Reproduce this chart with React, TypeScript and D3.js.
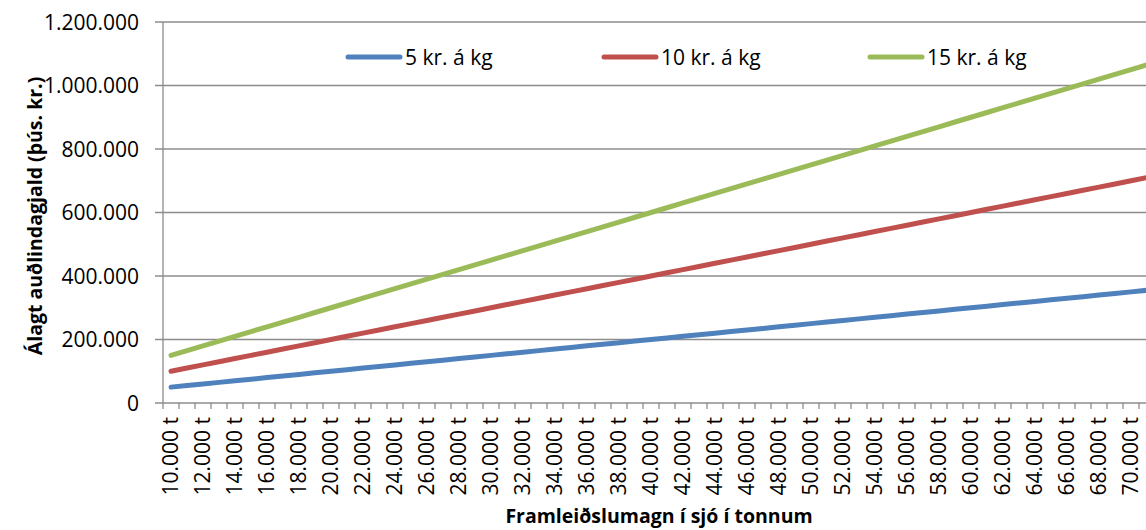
import { useEffect, useRef } from "react";
import * as d3 from "d3";

// tonnes caught (categories on the x axis)
const tonnes = [
  10000, 11000, 12000, 13000, 14000, 15000, 16000, 17000, 18000, 19000,
  20000, 21000, 22000, 23000, 24000, 25000, 26000, 27000, 28000, 29000,
  30000, 31000, 32000, 33000, 34000, 35000, 36000, 37000, 38000, 39000,
  40000, 41000, 42000, 43000, 44000, 45000, 46000, 47000, 48000, 49000,
  50000, 51000, 52000, 53000, 54000, 55000, 56000, 57000, 58000, 59000,
  60000, 61000, 62000, 63000, 64000, 65000, 66000, 67000, 68000, 69000,
  70000, 71000,
];

// þús. kr.
const fee5 = [
  50000, 55000, 60000, 65000, 70000, 75000, 80000, 85000, 90000, 95000,
  100000, 105000, 110000, 115000, 120000, 125000, 130000, 135000, 140000, 145000,
  150000, 155000, 160000, 165000, 170000, 175000, 180000, 185000, 190000, 195000,
  200000, 205000, 210000, 215000, 220000, 225000, 230000, 235000, 240000, 245000,
  250000, 255000, 260000, 265000, 270000, 275000, 280000, 285000, 290000, 295000,
  300000, 305000, 310000, 315000, 320000, 325000, 330000, 335000, 340000, 345000,
  350000, 355000,
];
const fee10 = [
  100000, 110000, 120000, 130000, 140000, 150000, 160000, 170000, 180000, 190000,
  200000, 210000, 220000, 230000, 240000, 250000, 260000, 270000, 280000, 290000,
  300000, 310000, 320000, 330000, 340000, 350000, 360000, 370000, 380000, 390000,
  400000, 410000, 420000, 430000, 440000, 450000, 460000, 470000, 480000, 490000,
  500000, 510000, 520000, 530000, 540000, 550000, 560000, 570000, 580000, 590000,
  600000, 610000, 620000, 630000, 640000, 650000, 660000, 670000, 680000, 690000,
  700000, 710000,
];
const fee15 = [
  150000, 165000, 180000, 195000, 210000, 225000, 240000, 255000, 270000, 285000,
  300000, 315000, 330000, 345000, 360000, 375000, 390000, 405000, 420000, 435000,
  450000, 465000, 480000, 495000, 510000, 525000, 540000, 555000, 570000, 585000,
  600000, 615000, 630000, 645000, 660000, 675000, 690000, 705000, 720000, 735000,
  750000, 765000, 780000, 795000, 810000, 825000, 840000, 855000, 870000, 885000,
  900000, 915000, 930000, 945000, 960000, 975000, 990000, 1005000, 1020000, 1035000,
  1050000, 1065000,
];

const seriesNames = ["5 kr. á kg", "10 kr. á kg", "15 kr. á kg"];
const seriesColors = ["#4F81BD", "#C0504D", "#9BBB59"];
const yTicks = [0, 200000, 400000, 600000, 800000, 1000000, 1200000];

const W = 1146;
const H = 530;
const FONT = "'Open Sans', 'DejaVu Sans', sans-serif";

export default function App() {
  const ref = useRef<SVGSVGElement>(null);

  useEffect(() => {
    if (!ref.current) return;
    const svg = d3.select(ref.current);
    svg.selectAll("*").remove();

    const left = 163, top = 22, bottom = 403;
    const step = 16;

    const x = d3
      .scaleBand<number>()
      .domain(tonnes)
      .range([left, left + tonnes.length * step])
      .padding(0);
    const y = d3.scaleLinear().domain([0, 1200000]).range([bottom, top]);

    const loc = d3.formatLocale({
      decimal: ",",
      thousands: ".",
      grouping: [3],
      currency: ["", ""],
    });
    const fmt = loc.format(",d");

    // gridlines
    svg
      .append("g")
      .selectAll("line")
      .data(yTicks)
      .enter()
      .append("line")
      .attr("x1", left - 8)
      .attr("x2", W)
      .attr("y1", (d) => y(d))
      .attr("y2", (d) => y(d))
      .attr("stroke", "#8c8c8c")
      .attr("stroke-width", 1.3);

    // y tick labels
    svg
      .append("g")
      .selectAll("text")
      .data(yTicks)
      .enter()
      .append("text")
      .attr("x", left - 24)
      .attr("y", (d) => y(d))
      .attr("dy", "0.36em")
      .attr("text-anchor", "end")
      .attr("font-family", FONT)
      .attr("font-size", 21)
      .attr("fill", "#000")
      .text((d) => fmt(d));

    svg
      .append("line")
      .attr("x1", left)
      .attr("x2", left)
      .attr("y1", top)
      .attr("y2", bottom)
      .attr("stroke", "#8c8c8c")
      .attr("stroke-width", 1.3);

    // x ticks sit on the category boundaries
    const bounds = tonnes
      .map((t) => x(t)!)
      .concat([x(tonnes[tonnes.length - 1])! + x.bandwidth()]);
    svg
      .append("g")
      .selectAll("line")
      .data(bounds)
      .enter()
      .append("line")
      .attr("x1", (d) => d)
      .attr("x2", (d) => d)
      .attr("y1", bottom)
      .attr("y2", bottom + 6)
      .attr("stroke", "#8c8c8c")
      .attr("stroke-width", 1.3);

    svg
      .append("g")
      .selectAll("text")
      .data(tonnes.filter((t) => t % 2000 === 0 && t <= 70000))
      .enter()
      .append("text")
      .attr(
        "transform",
        (d) => `translate(${x(d)! + x.bandwidth() / 2},${bottom + 14}) rotate(-90)`
      )
      .attr("dy", "0.35em")
      .attr("text-anchor", "end")
      .attr("font-family", FONT)
      .attr("font-size", 21)
      .attr("fill", "#000")
      .text((d) => fmt(d) + " t");

    // series
    const all = [fee5, fee10, fee15];
    const line = d3
      .line<number>()
      .x((_, i) => x(tonnes[i])! + x.bandwidth() / 2)
      .y((d) => y(d));
    svg
      .append("g")
      .selectAll("path")
      .data(all)
      .enter()
      .append("path")
      .attr("d", (d) => line(d))
      .attr("fill", "none")
      .attr("stroke", (_, i) => seriesColors[i])
      .attr("stroke-width", 5)
      .attr("stroke-linecap", "round");

    // legend
    const legX = [346, 602, 868];
    const leg = svg
      .append("g")
      .selectAll("g")
      .data(seriesNames)
      .enter()
      .append("g")
      .attr("transform", (_, i) => `translate(${legX[i]},57)`);
    leg
      .append("line")
      .attr("x1", 2)
      .attr("x2", 54)
      .attr("stroke", (_, i) => seriesColors[i])
      .attr("stroke-width", 5)
      .attr("stroke-linecap", "round");
    leg
      .append("text")
      .attr("x", 59)
      .attr("dy", "0.36em")
      .attr("font-family", FONT)
      .attr("font-size", 21)
      .attr("fill", "#000")
      .text((d) => d);

    // axis titles
    svg
      .append("text")
      .attr("transform", `translate(42,216) rotate(-90)`)
      .attr("text-anchor", "middle")
      .attr("font-family", FONT)
      .attr("font-weight", "bold")
      .attr("font-size", 19.5)
      .attr("fill", "#000")
      .text("Álagt auðlindagjald (þús. kr.)");

    svg
      .append("text")
      .attr("x", 659)
      .attr("y", 523)
      .attr("text-anchor", "middle")
      .attr("font-family", FONT)
      .attr("font-weight", "bold")
      .attr("font-size", 19.5)
      .attr("fill", "#000")
      .text("Framleiðslumagn í sjó í tonnum");
  }, []);

  return (
    <svg
      ref={ref}
      width={W}
      height={H}
      style={{ position: "absolute", left: 0, top: 0, background: "#fff" }}
    />
  );
}
